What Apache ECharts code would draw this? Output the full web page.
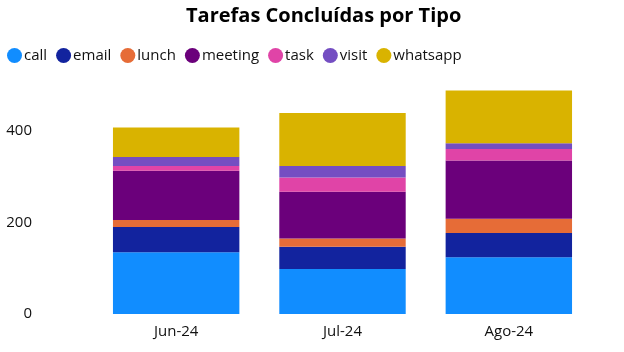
<!DOCTYPE html>
<html>
<head>
<meta charset="utf-8">
<script src="https://cdn.jsdelivr.net/npm/echarts@6/dist/echarts.min.js"></script>
<style>
  html, body { margin: 0; padding: 0; background: #fff; }
  #chart { width: 624px; height: 352px; }
</style>
</head>
<body>
<div id="chart"></div>
<script>
const months = ['Jun-24', 'Jul-24', 'Ago-24']
const callData = [135, 98, 124]
const emailData = [55, 49, 53]
const lunchData = [15, 18, 31]
const meetingData = [108, 102, 127]
const taskData = [10, 31, 25]
const visitData = [20, 25, 13]
const whatsappData = [64, 116, 115]

const seriesNames = ['call', 'email', 'lunch', 'meeting', 'task', 'visit', 'whatsapp']
const seriesValues = [callData, emailData, lunchData, meetingData, taskData, visitData, whatsappData]
const colors = ['#118DFF', '#12239E', '#E66C37', '#6B007B', '#E044A7', '#744EC2', '#D9B300']

const font = '"Open Sans", "Noto Sans", sans-serif'

const chart = echarts.init(document.getElementById('chart'))
chart.setOption({
  color: colors,
  animation: false,
  title: {
    text: 'Tarefas Concluídas por Tipo',
    left: 181,
    top: 1,
    textStyle: { fontFamily: font, fontSize: 20, fontWeight: 'bold', color: '#000' }
  },
  legend: {
    left: 2,
    top: 43,
    icon: 'circle',
    itemWidth: 15,
    itemHeight: 15,
    itemGap: 9,
    textStyle: { fontFamily: font, fontSize: 15, color: '#111', padding: [0, 0, 0, -3] },
    data: seriesNames
  },
  grid: { left: 93, right: 32, top: 85, bottom: 38 },
  xAxis: {
    type: 'category',
    data: months,
    axisLine: { show: false },
    axisTick: { show: false },
    axisLabel: { fontFamily: font, fontSize: 15, color: '#111', margin: 10 }
  },
  yAxis: {
    type: 'value',
    min: 0,
    max: 500,
    interval: 100,
    splitLine: { show: false },
    axisLine: { show: false },
    axisTick: { show: false },
    axisLabel: {
      fontFamily: font,
      fontSize: 15,
      color: '#111',
      margin: 61,
      formatter: v => (v % 200 === 0 ? String(v) : '')
    }
  },
  series: seriesNames.map((name, i) => ({
    name,
    type: 'bar',
    stack: 'total',
    barCategoryGap: '24%',
    data: seriesValues[i]
  }))
})
</script>
</body>
</html>
